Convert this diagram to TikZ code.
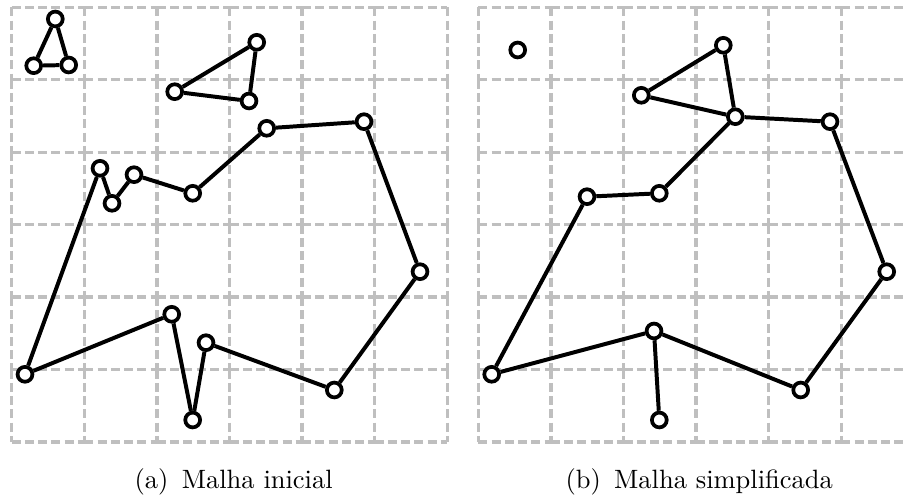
\documentclass[tikz,border=0pt]{standalone}
\begin{document}
\begin{tikzpicture}[x=0.3774pt,y=-0.3774pt,
  gridline/.style={draw=black!25,line width=1.25pt,dash pattern=on 3.4pt off 1.6pt},
  edge/.style={draw=black,line width=1.5pt},
  vtx/.style={circle,draw=black,fill=white,line width=1.4pt,inner sep=0pt,minimum size=5.6pt}]
\useasboundingbox (0,0) rectangle (906,497);
\clip (0,0) rectangle (906,497);
% grids
\foreach \ox in {11.7,478.3}{
  \foreach \i in {0,...,6}{
    \foreach \j in {0,...,5}{
      \draw[gridline] ({\ox+\j*72.6},{7.3+\i*72.45}) -- ({\ox+(\j+1)*72.6},{7.3+\i*72.45});
      \draw[gridline] ({\ox+\i*72.6},{7.3+\j*72.45}) -- ({\ox+\i*72.6},{7.3+(\j+1)*72.45});
    }
  }
}
% left nodes
\foreach \n/\x/\y in {l1/55.3/19, l2/33.7/65.7, l3/68.7/65,
  m1/256.7/42.3, m2/174.7/91.7, m3/249/101,
  A/100/168.3, B/112/203.3, C/134/174.7, D/192.7/193.3, E/266.7/128.3,
  F/364/121.7, G/420/271.7, H/334.3/390, I/206/342.7, J/192.7/420,
  K/171.7/314.3, L/25/374.3}
  \node[vtx] (\n) at (\x,\y) {};
% right nodes
\foreach \n/\x/\y in {r0/517.7/50, t1/723.3/45.3, t2/641.3/95.3, t3/735.3/116.7,
  rF/830/121.7, rD/659.3/193.3, rA/587/196.7, rG/886.7/271.7,
  rH/800.7/390, rK/654/331, rJ/659.3/420, rL/491.7/374.3}
  \node[vtx] (\n) at (\x,\y) {};
% left edges
\foreach \a/\b in {l1/l2, l2/l3, l3/l1, m1/m2, m2/m3, m3/m1,
  A/B, B/C, C/D, D/E, E/F, F/G, G/H, H/I, I/J, J/K, K/L, L/A}
  \draw[edge] (\a) -- (\b);
% right edges
\foreach \a/\b in {t1/t2, t2/t3, t3/t1, t3/rF, t3/rD, rD/rA, rA/rL,
  rL/rK, rK/rJ, rK/rH, rH/rG, rG/rF}
  \draw[edge] (\a) -- (\b);
% captions
\node[anchor=base] (capa) at (233.7,489) {(a)\enspace Malha inicial};
\node[anchor=base] (capb) at (699.2,489) {(b)\enspace Malha simplificada};
\end{tikzpicture}
\end{document}
